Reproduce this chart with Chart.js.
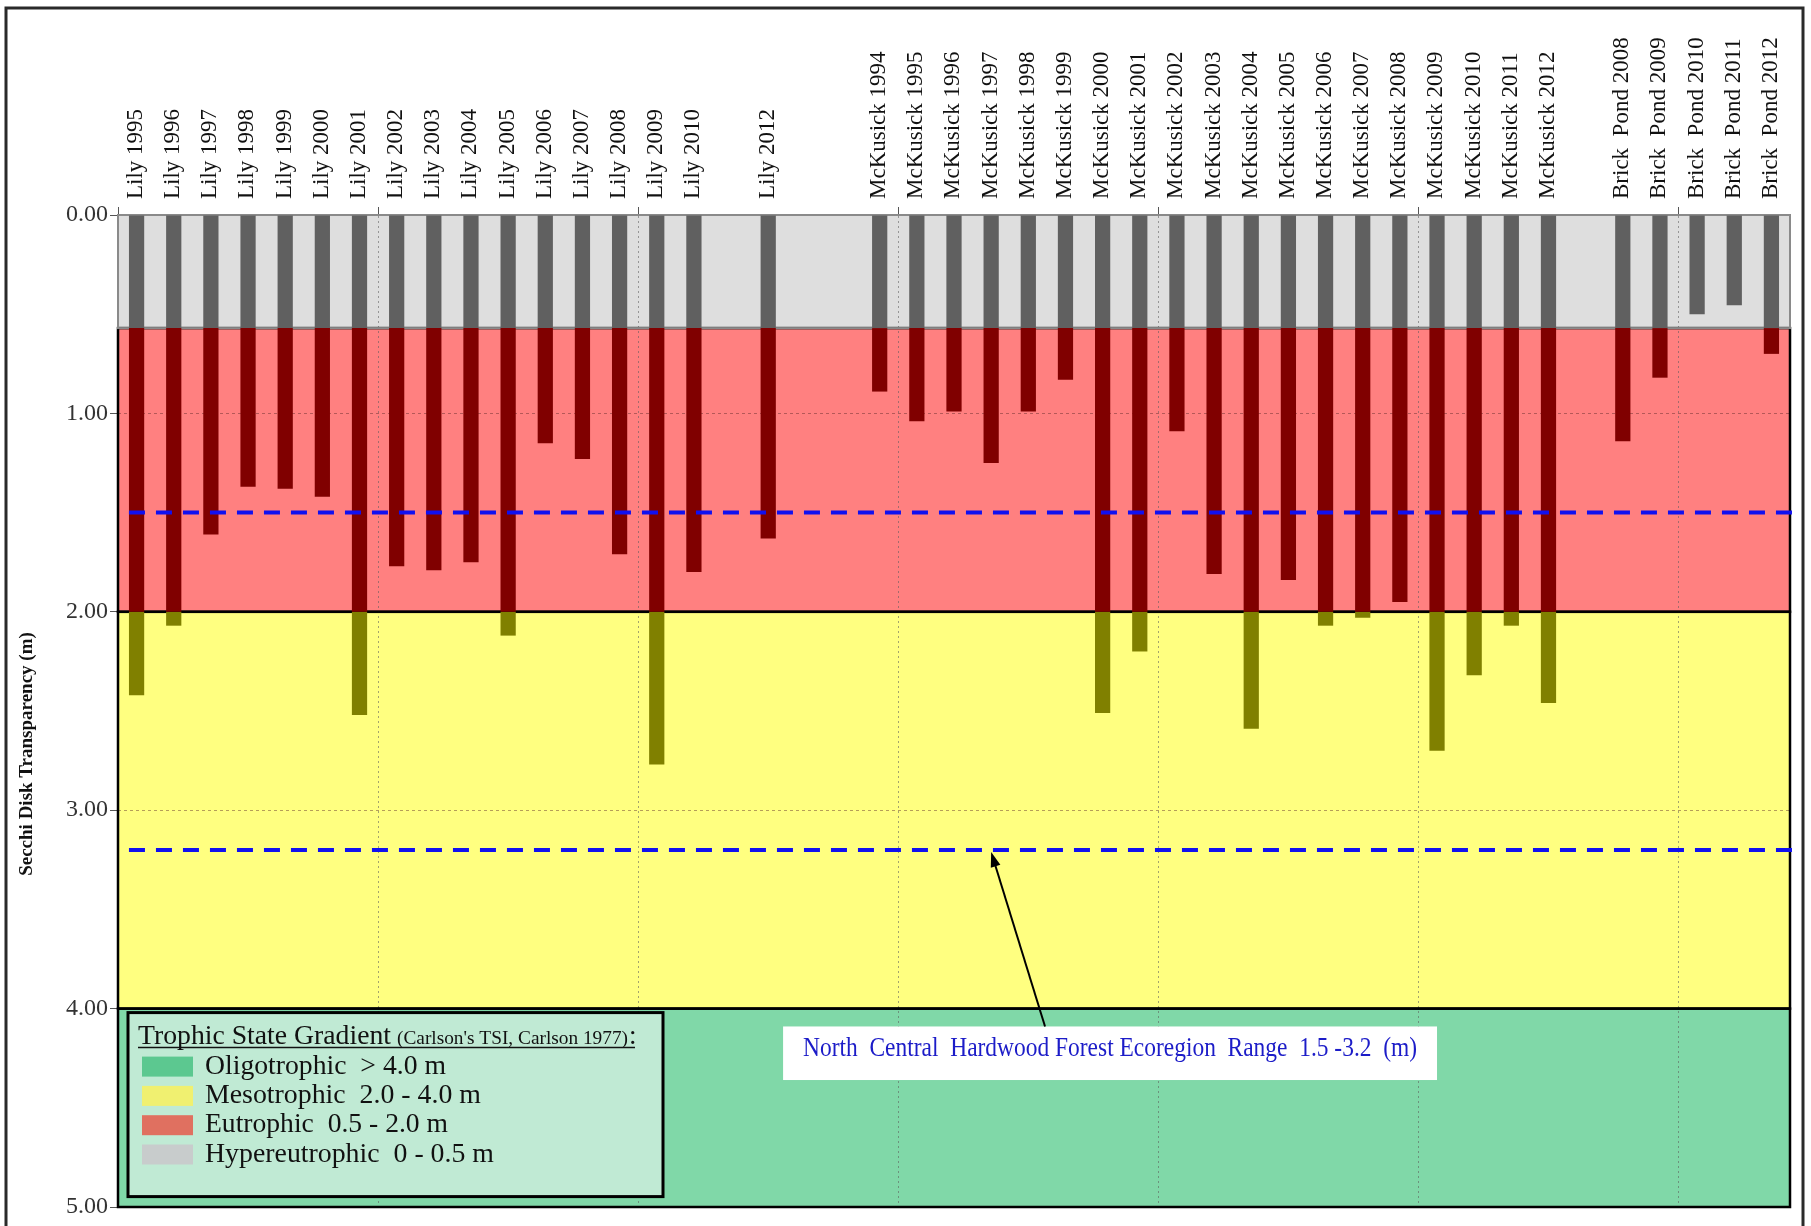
<!DOCTYPE html>
<html>
<head>
<meta charset="utf-8">
<script src="https://cdn.jsdelivr.net/npm/chart.js@4.4.1/dist/chart.umd.min.js"></script>
<style>
  html, body { margin: 0; padding: 0; background: #fff; }
</style>
</head>
<body>
<canvas id="secchi" width="1811" height="1226"></canvas>
<script>
// lake / year categories ('' = empty slot in the original sheet)
const lakeLabels = [
  'Lily 1995', 'Lily 1996', 'Lily 1997', 'Lily 1998', 'Lily 1999', 'Lily 2000', 'Lily 2001',
  'Lily 2002', 'Lily 2003', 'Lily 2004', 'Lily 2005', 'Lily 2006', 'Lily 2007', 'Lily 2008',
  'Lily 2009', 'Lily 2010', '', 'Lily 2012', '', '',
  'McKusick 1994', 'McKusick 1995', 'McKusick 1996', 'McKusick 1997', 'McKusick 1998',
  'McKusick 1999', 'McKusick 2000', 'McKusick 2001', 'McKusick 2002', 'McKusick 2003',
  'McKusick 2004', 'McKusick 2005', 'McKusick 2006', 'McKusick 2007', 'McKusick 2008',
  'McKusick 2009', 'McKusick 2010', 'McKusick 2011', 'McKusick 2012', '',
  'Brick  Pond 2008', 'Brick  Pond 2009', 'Brick  Pond 2010', 'Brick  Pond 2011', 'Brick  Pond 2012'
];

// mean secchi depth (m)
const secchiDepth = [
  2.42, 2.07, 1.61, 1.37, 1.38, 1.42, 2.52,
  1.77, 1.79, 1.75, 2.12, 1.15, 1.23, 1.71,
  2.77, 1.80, null, 1.63, null, null,
  0.89, 1.04, 0.99, 1.25, 0.99,
  0.83, 2.51, 2.20, 1.09, 1.81,
  2.59, 1.84, 2.07, 2.03, 1.95,
  2.70, 2.32, 2.07, 2.46, null,
  1.14, 0.82, 0.50, 0.455, 0.70
];

// trophic zones, top to bottom
const zoneNames = ['Hypereutrophic', 'Eutrophic', 'Mesotrophic', 'Oligotrophic'];
const zoneEdges = [0, 0.57, 2.0, 4.0, 5.0];
const zoneFill = ['#dedede', '#ff8080', '#ffff80', '#80d8a8'];
const barFill = ['#606060', '#800000', '#808000'];

const ecoregionRange = [1.5, 3.2];

const legendTexts = [
  'Oligotrophic  > 4.0 m',
  'Mesotrophic  2.0 - 4.0 m',
  'Eutrophic  0.5 - 2.0 m',
  'Hypereutrophic  0 - 0.5 m'
];
const legendSwatch = ['#5cc890', '#f0f070', '#e07060', '#c8cccc'];

const serif = '"Liberation Serif", "Times New Roman", serif';

// split each bar into the part that falls in each zone
const datasets = [0, 1, 2].map(z => ({
  label: zoneNames[z],
  data: secchiDepth.map(v => (v == null || v <= zoneEdges[z]) ? null : [zoneEdges[z], Math.min(v, zoneEdges[z + 1])]),
  backgroundColor: barFill[z],
  borderWidth: 0,
  grouped: false,
  barPercentage: 0.41,
  categoryPercentage: 1.0
}));

function fitText(ctx, text, x, y, width, center) {
  const w = ctx.measureText(text).width;
  ctx.save();
  ctx.translate(x, y);
  ctx.scale(width / w, 1);
  ctx.textAlign = 'left';
  ctx.fillText(text, center ? -w / 2 : 0, 0);
  ctx.restore();
}

const zonesPlugin = {
  id: 'zones',
  beforeDraw(chart) {
    const {ctx, chartArea: a, scales: {y}} = chart;
    ctx.save();
    for (let i = 0; i < zoneFill.length; i++) {
      const y0 = y.getPixelForValue(zoneEdges[i]);
      const y1 = y.getPixelForValue(zoneEdges[i + 1]);
      ctx.fillStyle = zoneFill[i];
      ctx.fillRect(a.left, y0, a.width, y1 - y0);
    }
    ctx.restore();
  },
  beforeDatasetsDraw(chart) {
    const {ctx, chartArea: a, scales: {y}} = chart;
    ctx.save();
    for (let i = 3; i >= 0; i--) {
      const y0 = y.getPixelForValue(zoneEdges[i]);
      const y1 = y.getPixelForValue(zoneEdges[i + 1]);
      ctx.strokeStyle = i === 0 ? '#8a8a8a' : '#000';
      ctx.lineWidth = i === 0 ? 2 : 2.5;
      ctx.strokeRect(a.left, y0, a.width, y1 - y0);
    }
    ctx.restore();
  }
};

const overlayPlugin = {
  id: 'overlay',
  afterDatasetsDraw(chart) {
    const {ctx, scales: {x, y}} = chart;
    const first = chart.getDatasetMeta(0).data[0];
    const startX = first.x - first.width / 2;
    ctx.save();
    ctx.strokeStyle = '#1010f0';
    ctx.lineWidth = 4;
    ctx.setLineDash([16, 11]);
    ecoregionRange.forEach(v => {
      const py = y.getPixelForValue(v);
      ctx.beginPath();
      ctx.moveTo(startX, py);
      ctx.lineTo(1800, py);
      ctx.stroke();
    });
    ctx.restore();
  },
  afterDraw(chart) {
    const {ctx, chartArea: a, scales: {x, y}} = chart;
    ctx.save();

    // annotation box + arrow
    const bx0 = x.getPixelForValue(17.4), bx1 = x.getPixelForValue(35.0);
    const by0 = y.getPixelForValue(4.09), by1 = y.getPixelForValue(4.36);
    ctx.fillStyle = '#fff';
    ctx.fillRect(bx0, by0, bx1 - bx0, by1 - by0);
    ctx.fillStyle = '#1c1cc8';
    ctx.font = '27px ' + serif;
    ctx.textBaseline = 'middle';
    fitText(ctx, 'North  Central  Hardwood Forest Ecoregion  Range  1.5 -3.2  (m)', (bx0 + bx1) / 2, by0 + 22, 614, true);

    const tipX = x.getPixelForValue(23), tipY = y.getPixelForValue(ecoregionRange[1]) + 2;
    const baseX = x.getPixelForValue(24.45), baseY = by0;
    const ang = Math.atan2(tipY - baseY, tipX - baseX);
    ctx.strokeStyle = '#000';
    ctx.lineWidth = 2;
    ctx.beginPath();
    ctx.moveTo(baseX, baseY);
    ctx.lineTo(tipX - 10 * Math.cos(ang), tipY - 10 * Math.sin(ang));
    ctx.stroke();
    ctx.fillStyle = '#000';
    ctx.beginPath();
    ctx.moveTo(tipX, tipY);
    ctx.lineTo(tipX - 15 * Math.cos(ang) + 5 * Math.sin(ang), tipY - 15 * Math.sin(ang) - 5 * Math.cos(ang));
    ctx.lineTo(tipX - 15 * Math.cos(ang) - 5 * Math.sin(ang), tipY - 15 * Math.sin(ang) + 5 * Math.cos(ang));
    ctx.closePath();
    ctx.fill();

    // trophic legend box
    const lx = a.left + 10, ly = y.getPixelForValue(4) + 4;
    ctx.fillStyle = '#c0ead4';
    ctx.fillRect(lx, ly, 535, 184);
    ctx.strokeStyle = '#000';
    ctx.lineWidth = 3;
    ctx.strokeRect(lx, ly, 535, 184);

    ctx.fillStyle = '#111';
    ctx.textBaseline = 'alphabetic';
    ctx.textAlign = 'left';
    const tx = lx + 10, tBase = ly + 31;
    ctx.font = '27px ' + serif;
    fitText(ctx, 'Trophic State Gradient', tx, tBase, 253);
    ctx.font = '18px ' + serif;
    fitText(ctx, "(Carlson's TSI, Carlson 1977)", tx + 259, tBase, 231);
    ctx.font = '27px ' + serif;
    ctx.fillText(':', tx + 491, tBase);
    ctx.lineWidth = 1.5;
    ctx.strokeStyle = '#111';
    ctx.beginPath();
    ctx.moveTo(tx, tBase + 4);
    ctx.lineTo(tx + 497, tBase + 4);
    ctx.stroke();

    const widths = [241, 276, 243, 289];
    legendTexts.forEach((t, i) => {
      const cy = ly + 54 + i * 29.3;
      ctx.fillStyle = legendSwatch[i];
      ctx.fillRect(lx + 14, cy - 10, 51, 20);
      ctx.fillStyle = '#111';
      ctx.font = '27px ' + serif;
      ctx.textBaseline = 'middle';
      fitText(ctx, t, lx + 77, cy, widths[i]);
    });

    // y axis title
    ctx.save();
    ctx.translate(27, 754);
    ctx.rotate(-Math.PI / 2);
    ctx.font = 'bold 19px ' + serif;
    ctx.fillStyle = '#111';
    ctx.textAlign = 'center';
    ctx.textBaseline = 'middle';
    ctx.fillText('Secchi Disk Transparency (m)', 0, 0);
    ctx.restore();

    // outer frame
    ctx.strokeStyle = '#2a2a2a';
    ctx.lineWidth = 3;
    ctx.strokeRect(6, 8, 1797, 1230);
    ctx.restore();
  }
};

new Chart(document.getElementById('secchi'), {
  type: 'bar',
  data: { labels: lakeLabels, datasets: datasets },
  options: {
    responsive: false,
    devicePixelRatio: 1,
    animation: false,
    layout: { padding: { left: 0, top: 0, right: 21, bottom: 19 } },
    plugins: { legend: { display: false }, tooltip: { enabled: false } },
    scales: {
      x: {
        position: 'top',
        offset: true,
        grid: {
          offset: true,
          color: ctx => ctx.index % 7 === 0 ? 'rgba(90,90,90,0.55)' : 'transparent',
          tickColor: ctx => ctx.index % 7 === 0 ? '#555' : 'transparent',
          tickLength: 8,
          tickBorderDash: []
        },
        border: { display: true, color: '#8a8a8a', width: 2, dash: [2, 3] },
        ticks: {
          autoSkip: false,
          minRotation: 90,
          maxRotation: 90,
          padding: 8,
          labelOffset: 27,
          color: '#111',
          font: { family: serif, size: 23 }
        },
        afterFit: s => { s.height = 215; }
      },
      y: {
        reverse: true,
        min: 0,
        max: 5,
        grid: {
          color: ctx => ctx.tick && ctx.tick.value === 0 ? 'transparent' : 'rgba(90,40,40,0.45)',
          tickColor: '#555',
          tickLength: 8,
          tickBorderDash: []
        },
        border: { display: false, dash: [3, 3] },
        ticks: {
          stepSize: 1,
          padding: 2,
          color: '#333',
          font: { family: serif, size: 24 },
          callback: v => v.toFixed(2)
        },
        afterFit: s => { s.width = 118; s.paddingTop = 0; s.paddingBottom = 0; }
      }
    }
  },
  plugins: [zonesPlugin, overlayPlugin]
});
</script>
</body>
</html>
